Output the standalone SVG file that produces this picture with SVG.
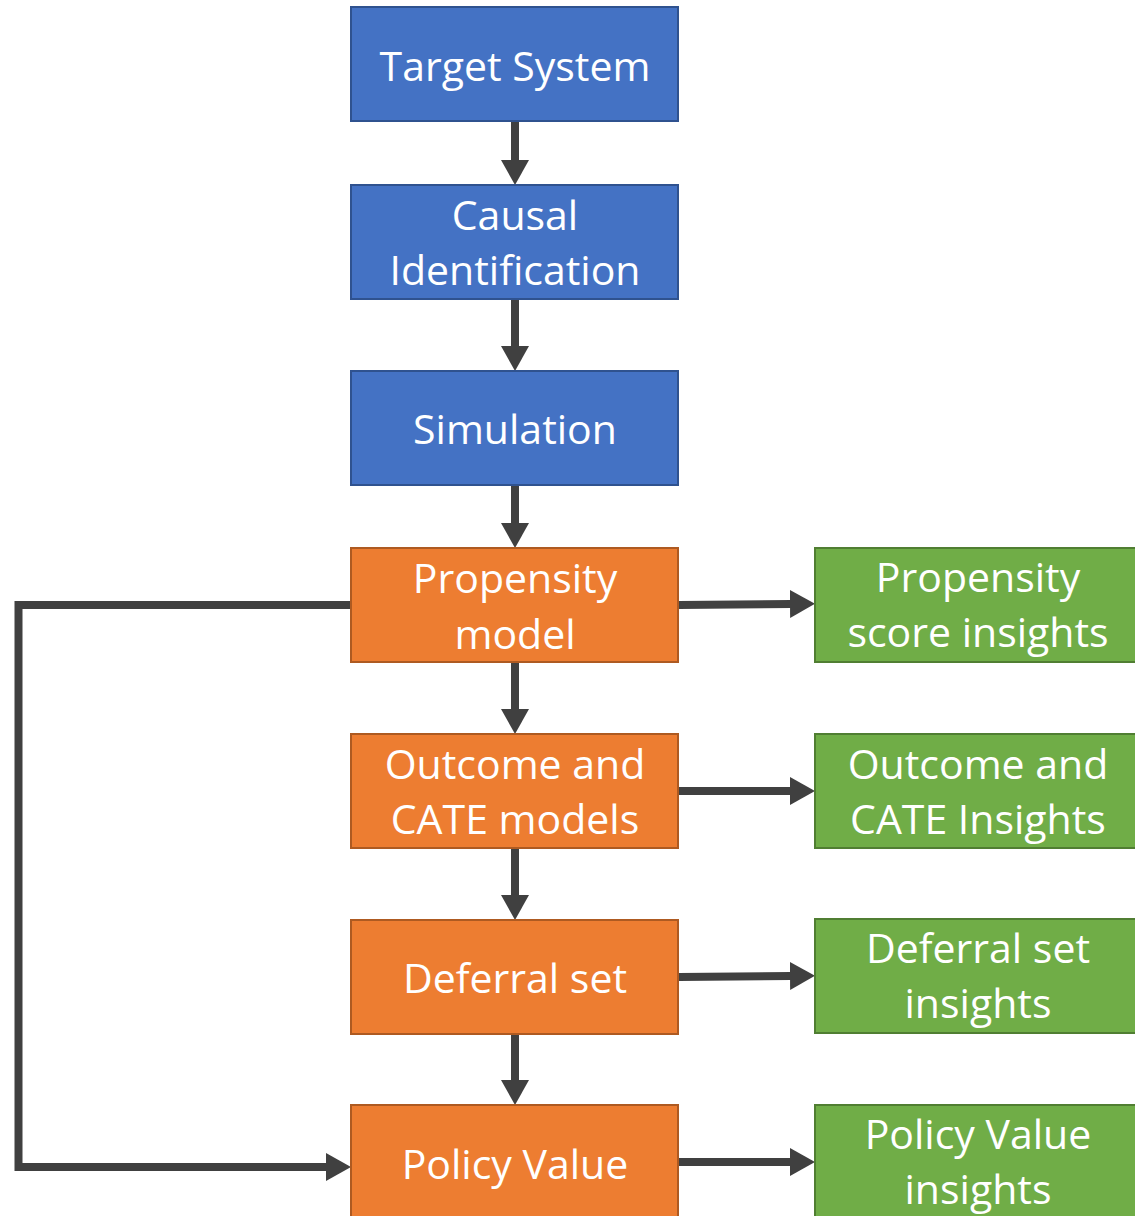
<svg xmlns="http://www.w3.org/2000/svg" width="1135" height="1216" viewBox="0 0 1135 1216">
<style>
.blue{fill:#4472C4;stroke:#2F528F;stroke-width:2}
.orange{fill:#ED7D31;stroke:#AE5A21;stroke-width:2}
.green{fill:#70AD47;stroke:#507E32;stroke-width:2}
text{font-family:"Open Sans","Noto Sans",sans-serif;font-size:41px;fill:#ffffff;text-anchor:middle}
.c{fill:none;stroke:#404040;stroke-width:8}
</style>
<defs>
<marker id="ah" markerUnits="userSpaceOnUse" markerWidth="28" markerHeight="30" refX="1" refY="14" orient="auto" viewBox="0 0 28 28">
<path d="M0,0 L25,14 L0,28 Z" fill="#404040"/>
</marker>
</defs>
<g id="connectors">
<path class="c" d="M515,122 V161" marker-end="url(#ah)"/>
<path class="c" d="M515,300 V347" marker-end="url(#ah)"/>
<path class="c" d="M515,486 V524" marker-end="url(#ah)"/>
<path class="c" d="M515,663 V710" marker-end="url(#ah)"/>
<path class="c" d="M515,849 V896" marker-end="url(#ah)"/>
<path class="c" d="M515,1035 V1081" marker-end="url(#ah)"/>
<path class="c" d="M679,605 L791,604" marker-end="url(#ah)"/>
<path class="c" d="M679,791 L791,791" marker-end="url(#ah)"/>
<path class="c" d="M679,977 L791,976" marker-end="url(#ah)"/>
<path class="c" d="M679,1162 L791,1162" marker-end="url(#ah)"/>
<path class="c" stroke-width="9" d="M355,605 H18.5 V1167 H327" marker-end="url(#ah)"/>
</g>
<g id="target-system"><rect class="blue" x="351" y="7" width="327" height="114"/><text x="515" y="81">Target System</text></g>
<g id="causal-identification"><rect class="blue" x="351" y="185" width="327" height="114"/><text x="515" y="230">Causal</text><text x="515" y="285">Identification</text></g>
<g id="simulation"><rect class="blue" x="351" y="371" width="327" height="114"/><text x="515" y="444">Simulation</text></g>
<g id="propensity-model"><rect class="orange" x="351" y="548" width="327" height="114"/><text x="515" y="593">Propensity</text><text x="515" y="649">model</text></g>
<g id="outcome-cate-models"><rect class="orange" x="351" y="734" width="327" height="114"/><text x="515" y="779">Outcome and</text><text x="515" y="834">CATE models</text></g>
<g id="deferral-set"><rect class="orange" x="351" y="920" width="327" height="114"/><text x="515" y="993">Deferral set</text></g>
<g id="policy-value"><rect class="orange" x="351" y="1105" width="327" height="114"/><text x="515" y="1179">Policy Value</text></g>
<g id="propensity-score-insights"><rect class="green" x="815" y="548" width="327" height="114"/><text x="978" y="592">Propensity</text><text x="978" y="647">score insights</text></g>
<g id="outcome-cate-insights"><rect class="green" x="815" y="734" width="327" height="114"/><text x="978" y="779">Outcome and</text><text x="978" y="834">CATE Insights</text></g>
<g id="deferral-set-insights"><rect class="green" x="815" y="919" width="327" height="114"/><text x="978" y="963">Deferral set</text><text x="978" y="1018">insights</text></g>
<g id="policy-value-insights"><rect class="green" x="815" y="1105" width="327" height="114"/><text x="978" y="1149">Policy Value</text><text x="978" y="1204">insights</text></g>
</svg>
